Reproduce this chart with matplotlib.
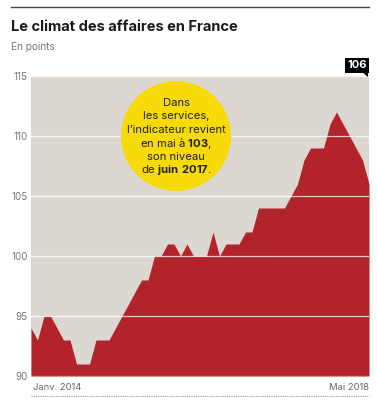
import matplotlib
matplotlib.use("Agg")
import matplotlib.pyplot as plt
from matplotlib.patches import Ellipse, Polygon
from matplotlib.lines import Line2D

plt.rcParams['font.family'] = ['Inter', 'DejaVu Sans']
plt.rcParams['mathtext.fontset'] = 'custom'
plt.rcParams['mathtext.rm'] = 'Inter'
plt.rcParams['mathtext.bf'] = 'Inter:bold'

# Data: monthly values Jan 2014 -> May 2018
values = [94, 93, 95, 95, 94, 93, 93, 91, 91, 91, 93, 93, 93, 94, 95, 96, 97, 98, 98,
          100, 100, 101, 101, 100, 101, 100, 100, 100, 102, 100, 101, 101, 101, 102, 102,
          104, 104, 104, 104, 104, 105, 106, 108, 109, 109, 109, 111, 112, 111, 110, 109,
          108, 106]
yticks = [90, 95, 100, 105, 110, 115]
first_label = "Janv. 2014"
last_label = "Mai 2018"
last_value = "106"
title = "Le climat des affaires en France"
subtitle = "En points"

W, H = 377, 400
fig = plt.figure(figsize=(W / 100, H / 100), dpi=100)
fig.patch.set_facecolor('white')

def fx(px):
    return px / W

def fy(py):
    return 1 - py / H

left, right, top, bottom = 31, 369, 76, 376
ax = fig.add_axes([fx(left), fy(bottom), fx(right) - fx(left), fy(top) - fy(bottom)])
ax.set_facecolor('#dcd8d1')
x = list(range(len(values)))
ax.fill_between(x, values, 90, color='#b3232a', linewidth=0, zorder=2)
ax.set_xlim(0, len(values) - 1)
ax.set_ylim(90, 115)
for v in yticks:
    ax.axhline(v, color='white', lw=0.9, alpha=0.75, zorder=3)
for s in ax.spines.values():
    s.set_visible(False)
ax.set_xticks([])
ax.set_yticks(yticks)
ax.set_yticklabels([str(v) for v in yticks], color='#777777', fontsize=7)
ax.tick_params(axis='y', length=0, pad=2.5)

# x labels
fig.text(fx(33), fy(387), first_label, ha='left', va='center', fontsize=6.8, color='#666666')
fig.text(fx(369), fy(387), last_label, ha='right', va='center', fontsize=6.8, color='#666666')

# dotted bottom line
fig.add_artist(Line2D([fx(31), fx(369)], [fy(396), fy(396)], color='#999999', lw=0.8,
                      linestyle=(0, (1, 1))))
# top line
fig.add_artist(Line2D([fx(11), fx(369)], [fy(7), fy(7)], color='#444444', lw=1.0))

# Title
fig.text(fx(11), fy(27), title, ha='left', va='center', fontsize=10.5, fontweight='bold',
         color='#1a1a1a')
fig.text(fx(11), fy(47), subtitle, ha='left', va='center', fontsize=7.3, color='#777777')

# Yellow circle annotation
cx, cy, r = 176, 136, 55
ell = Ellipse((fx(cx), fy(cy)), 2 * r / W, 2 * r / H, transform=fig.transFigure,
              facecolor='#f7da0a', edgecolor='none', zorder=5)
fig.add_artist(ell)
lines = ["Dans", "les services,", "l\u2019indicateur revient",
         r"en mai à $\mathbf{103}$,", "son niveau", r"de $\mathbf{juin\ 2017}$."]
y0 = 103
for i, ln in enumerate(lines):
    fig.text(fx(cx), fy(y0 + i * 13.4), ln, ha='center', va='center', fontsize=8.1,
             color='#222222', zorder=6)

# 106 label box
fig.text(fx(357), fy(65.5), last_value, ha='center', va='center', fontsize=8,
         fontweight='bold', color='white', zorder=7,
         bbox=dict(boxstyle='square,pad=0.2', facecolor='black', edgecolor='none'))
tri = Polygon([[fx(362), fy(72)], [fx(368), fy(72)], [fx(368), fy(77)]], closed=True,
              transform=fig.transFigure, facecolor='black', edgecolor='none', zorder=7)
fig.add_artist(tri)

fig.savefig('out.png', dpi=100)
